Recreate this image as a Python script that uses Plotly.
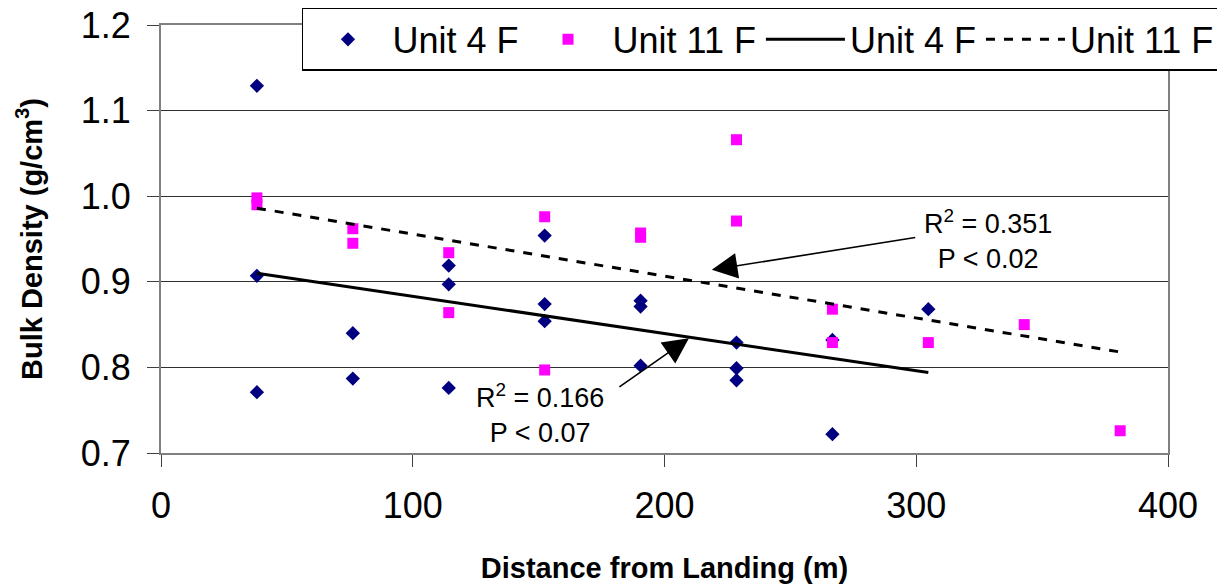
import plotly.graph_objects as go

# Unit 4 F observations
u4_x = [38.1, 38.1, 38.1, 76.2, 76.2, 114.3, 114.3, 114.3, 152.4, 152.4, 152.4,
        190.5, 190.5, 190.5, 228.6, 228.6, 228.6, 266.7, 266.7, 304.8]
u4_y = [1.129, 0.907, 0.771, 0.840, 0.787, 0.919, 0.897, 0.776, 0.954, 0.874, 0.854,
        0.878, 0.871, 0.802, 0.829, 0.799, 0.785, 0.832, 0.722, 0.868]

# Unit 11 F observations
u11_x = [38.1, 38.1, 76.2, 76.2, 114.3, 114.3, 152.4, 152.4, 190.5, 190.5,
         228.6, 228.6, 266.7, 266.7, 304.8, 342.9, 381.0]
u11_y = [0.998, 0.990, 0.962, 0.945, 0.934, 0.864, 0.976, 0.797, 0.957, 0.952,
         1.066, 0.971, 0.868, 0.829, 0.829, 0.850, 0.726]

# Trend lines (endpoints)
t4_x = [38.1, 304.8]
t4_y = [0.910, 0.794]
t11_x = [38.1, 381.0]
t11_y = [0.986, 0.818]

x_ticks = [0, 100, 200, 300, 400]
y_ticks = [0.7, 0.8, 0.9, 1.0, 1.1, 1.2]

fig = go.Figure()
fig.add_trace(go.Scatter(x=u4_x, y=u4_y, mode="markers", name="Unit 4 F",
                         marker=dict(symbol="diamond", color="#000080", size=11)))
fig.add_trace(go.Scatter(x=u11_x, y=u11_y, mode="markers", name="Unit 11 F",
                         marker=dict(symbol="square", color="#FF00FF", size=11)))
fig.add_trace(go.Scatter(x=t4_x, y=t4_y, mode="lines", name="Unit 4 F",
                         line=dict(color="black", width=3)))
fig.add_trace(go.Scatter(x=t11_x, y=t11_y, mode="lines", name="Unit 11 F",
                         line=dict(color="black", width=3, dash="dash")))

font_main = "Liberation Sans, Arial, sans-serif"

# page body has an 8px margin; figure sized to fit the 1225x587 window
fig.update_layout(
    width=1217, height=579,
    margin=dict(l=153, r=57, t=17, b=134, autoexpand=False),
    paper_bgcolor="white", plot_bgcolor="white",
    font=dict(family=font_main, color="black"),
    showlegend=True,
    legend=dict(orientation="h", x=0.14, xanchor="left", y=1.040, yanchor="top",
                font=dict(size=36, family=font_main), bordercolor="black", borderwidth=1.5,
                bgcolor="white", itemwidth=79, tracegroupgap=0),
    xaxis=dict(range=[0, 400], tickvals=x_ticks, ticktext=[str(v) for v in x_ticks],
               showgrid=False, zeroline=False, showline=True, linecolor="#808080", linewidth=2,
               mirror=True, ticks="outside", ticklen=12, tickcolor="#404040",
               tickfont=dict(size=36), ticklabelstandoff=8, ticklabeloverflow="allow",
               title=dict(text="<b>Distance from Landing (m)</b>", font=dict(size=29), standoff=32)),
    yaxis=dict(range=[0.7, 1.2], tickvals=y_ticks, ticktext=[f"{v:.1f}" for v in y_ticks],
               showgrid=True, gridcolor="#303030", gridwidth=1, zeroline=False,
               showline=True, linecolor="#808080", linewidth=2, mirror=True,
               ticks="outside", ticklen=12, tickcolor="#404040", tickfont=dict(size=36),
               ticklabelstandoff=9, ticklabeloverflow="allow",
               title=dict(text="<b>Bulk Density (g/cm<sup>3</sup>)</b>", font=dict(size=29), standoff=30)),
)

# Arrows
fig.add_annotation(x=218.8, y=0.914, ax=300.2, ay=0.952, xref="x", yref="y", axref="x", ayref="y",
                   showarrow=True, arrowhead=2, arrowsize=3.2, arrowwidth=1.6, arrowcolor="black", text="")
fig.add_annotation(x=209.7, y=0.834, ax=181.5, ay=0.776, xref="x", yref="y", axref="x", ayref="y",
                   showarrow=True, arrowhead=2, arrowsize=3.2, arrowwidth=1.6, arrowcolor="black", text="")
# Labels
fig.add_annotation(x=328.4, y=0.949, xref="x", yref="y", showarrow=False,
                   text="R<sup>2</sup> = 0.351<br>P < 0.02", font=dict(size=27, family=font_main),
                   align="center")
fig.add_annotation(x=150.5, y=0.7456, xref="x", yref="y", showarrow=False,
                   text="R<sup>2</sup> = 0.166<br>P < 0.07", font=dict(size=27, family=font_main),
                   align="center")

fig.write_html("out.html")
